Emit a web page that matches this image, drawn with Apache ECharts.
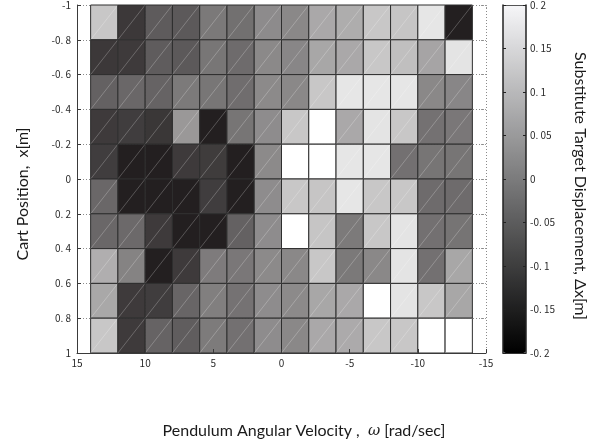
<!DOCTYPE html>
<html>
<head>
<meta charset="utf-8">
<script src="https://cdn.jsdelivr.net/npm/echarts@6/dist/echarts.min.js"></script>
<style>
  html, body { margin: 0; padding: 0; background: #ffffff; }
  #chart { width: 601px; height: 447px; }
</style>
</head>
<body>
<div id="chart"></div>
<script>
// Cell centres: pendulum angular velocity (rad/sec) and cart position (m)
const omegaCenters = [13, 11, 9, 7, 5, 3, 1, -1, -3, -5, -7, -9, -11, -13];
const cartCenters = [-0.9, -0.7, -0.5, -0.3, -0.1, 0.1, 0.3, 0.5, 0.7, 0.9];

// Substitute target displacement (m), one row per cart position
const row1  = [0.100, -0.155, -0.093, -0.096, -0.040, -0.056, -0.007, -0.013, 0.045, 0.053, 0.100, 0.096, 0.155, -0.200];
const row2  = [-0.155, -0.151, -0.091, -0.096, -0.045, -0.064, -0.011, -0.016, 0.042, 0.045, 0.100, 0.085, 0.038, 0.151];
const row3  = [-0.082, -0.071, -0.078, -0.038, -0.045, -0.060, -0.009, -0.013, 0.100, 0.155, 0.155, 0.155, -0.013, -0.016];
const row4  = [-0.151, -0.147, -0.158, 0.016, -0.200, -0.047, -0.005, 0.100, 0.200, 0.045, 0.151, 0.100, -0.053, -0.042];
const row5  = [-0.147, -0.200, -0.200, -0.151, -0.149, -0.200, -0.009, 0.200, 0.200, 0.155, 0.155, -0.055, -0.047, -0.047];
const row6  = [-0.071, -0.200, -0.200, -0.200, -0.147, -0.200, -0.005, 0.100, 0.096, 0.155, 0.100, 0.100, -0.064, -0.064];
const row7  = [-0.071, -0.067, -0.151, -0.200, -0.200, -0.082, -0.005, 0.200, 0.096, -0.038, 0.100, 0.151, -0.055, -0.049];
const row8  = [0.056, -0.022, -0.200, -0.151, -0.035, -0.042, -0.009, -0.013, 0.100, -0.040, -0.013, 0.151, -0.055, 0.042];
const row9  = [0.044, -0.151, -0.147, -0.075, -0.029, -0.051, -0.005, -0.009, 0.042, 0.045, 0.200, 0.151, 0.100, 0.042];
const row10 = [0.100, -0.151, -0.078, -0.089, -0.036, -0.055, -0.005, -0.013, 0.045, 0.049, 0.100, 0.100, 0.200, 0.200];
const displacementRows = [row1, row2, row3, row4, row5, row6, row7, row8, row9, row10];

// Axis tick values
const omegaTicks = [15, 10, 5, 0, -5, -10, -15];
const cartTicks = [-1, -0.8, -0.6, -0.4, -0.2, 0, 0.2, 0.4, 0.6, 0.8, 1];
const colorTicks = [0.2, 0.15, 0.1, 0.05, 0, -0.05, -0.1, -0.15, -0.2];

const cells = [];
displacementRows.forEach((row, r) => {
  row.forEach((v, c) => cells.push([omegaCenters[c], cartCenters[r], v]));
});

const halfW = Math.abs(omegaCenters[0] - omegaCenters[1]) / 2;
const halfH = Math.abs(cartCenters[1] - cartCenters[0]) / 2;

// Tick labels are printed with a gap after the decimal point
function tickText(v) {
  const s = String(Math.round(v * 100) / 100);
  return s.replace('.', '. ');
}

const tickFont = {
  fontFamily: 'Noto Sans CJK JP',
  fontSize: 10,
  color: '#2a2a2a'
};
const titleFont = '16px Lato';
const dotted = { color: '#8a8a8a', type: [1, 2], width: 1 };

const chart = echarts.init(document.getElementById('chart'), null, { renderer: 'canvas' });

chart.setOption({
  animation: false,
  backgroundColor: '#ffffff',
  grid: [
    { left: 77, right: 115, top: 5, bottom: 94, outerBoundsMode: 'none' },
    { left: 503, width: 23, top: 5, height: 348, outerBoundsMode: 'none' }
  ],
  xAxis: [
    {
      // bottom axis: line, ticks and labels drawn above the cells
      gridIndex: 0, type: 'value', inverse: true,
      min: omegaTicks[omegaTicks.length - 1], max: omegaTicks[0], interval: 5,
      position: 'bottom',
      axisLine: { show: true, onZero: false, lineStyle: { color: '#3a3a3a', width: 1 } },
      axisTick: { show: true, inside: true, length: 4, lineStyle: { color: '#3a3a3a' } },
      axisLabel: Object.assign({ margin: 5, formatter: tickText }, tickFont),
      splitLine: { show: false },
      z: 10
    },
    {
      // top mirror: dotted grid and ticks behind the cells
      gridIndex: 0, type: 'value', inverse: true,
      min: omegaTicks[omegaTicks.length - 1], max: omegaTicks[0], interval: 5,
      position: 'top',
      axisLine: { show: false, onZero: false },
      axisTick: { show: true, inside: true, length: 4, lineStyle: { color: '#9a9a9a', type: [1, 1] } },
      axisLabel: { show: false },
      splitLine: { show: true, lineStyle: dotted },
      z: 1
    },
    { gridIndex: 1, type: 'value', min: 0, max: 1, position: 'bottom',
      axisLine: { show: true, onZero: false, lineStyle: { color: '#333', width: 1 } },
      axisTick: { show: false }, axisLabel: { show: false }, splitLine: { show: false }, z: 10 },
    { gridIndex: 1, type: 'value', min: 0, max: 1, position: 'top',
      axisLine: { show: true, onZero: false, lineStyle: { color: '#555', width: 1 } },
      axisTick: { show: false }, axisLabel: { show: false }, splitLine: { show: false }, z: 10 }
  ],
  yAxis: [
    {
      gridIndex: 0, type: 'value', inverse: true,
      min: cartTicks[0], max: cartTicks[cartTicks.length - 1], interval: 0.2,
      position: 'left',
      axisLine: { show: true, onZero: false, lineStyle: { color: '#3a3a3a', width: 1 } },
      axisTick: { show: true, inside: true, length: 4, lineStyle: { color: '#3a3a3a' } },
      axisLabel: Object.assign({ margin: 6, formatter: tickText }, tickFont),
      splitLine: { show: false },
      z: 10
    },
    {
      gridIndex: 0, type: 'value', inverse: true,
      min: cartTicks[0], max: cartTicks[cartTicks.length - 1], interval: 0.2,
      position: 'right',
      axisLine: { show: false, onZero: false },
      axisTick: { show: true, inside: true, length: 6, lineStyle: { color: '#9a9a9a', type: [1, 1] } },
      axisLabel: { show: false },
      splitLine: { show: true, lineStyle: dotted },
      z: 1
    },
    {
      gridIndex: 1, type: 'value',
      min: colorTicks[colorTicks.length - 1], max: colorTicks[0], interval: 0.05,
      position: 'left',
      axisLine: { show: true, onZero: false, lineStyle: { color: '#222', width: 1.5 } },
      axisTick: { show: true, inside: true, length: 3, lineStyle: { color: '#222' } },
      axisLabel: { show: false },
      splitLine: { show: false },
      z: 10
    },
    {
      gridIndex: 1, type: 'value',
      min: colorTicks[colorTicks.length - 1], max: colorTicks[0], interval: 0.05,
      position: 'right',
      axisLine: { show: true, onZero: false, lineStyle: { color: '#222', width: 1.5 } },
      axisTick: { show: true, inside: true, length: 3, lineStyle: { color: '#222' } },
      axisLabel: Object.assign({ margin: 4, formatter: tickText }, tickFont),
      splitLine: { show: false },
      z: 10
    }
  ],
  visualMap: [
    {
      type: 'continuous', show: false, seriesIndex: 0, dimension: 2,
      min: -0.2, max: 0.2,
      inRange: { color: ['#231f20', '#ffffff'] }
    },
    {
      type: 'continuous', show: true, seriesIndex: 1, dimension: 1,
      min: -0.2, max: 0.2,
      left: 503, top: 5, padding: 0,
      itemWidth: 23, itemHeight: 348,
      calculable: false, text: null, showLabel: false,
      inRange: { color: ['#000000', '#f6f6f8'] }
    }
  ],
  series: [
    {
      type: 'custom',
      xAxisIndex: 0, yAxisIndex: 0,
      data: cells,
      encode: { x: 0, y: 1 },
      renderItem: function (params, api) {
        const x = api.value(0), y = api.value(1);
        const a = api.coord([x + halfW, y - halfH]);
        const b = api.coord([x - halfW, y + halfH]);
        const left = Math.min(a[0], b[0]), right = Math.max(a[0], b[0]);
        const top = Math.min(a[1], b[1]), bottom = Math.max(a[1], b[1]);
        return {
          type: 'group',
          children: [
            {
              type: 'rect',
              shape: { x: left, y: top, width: right - left, height: bottom - top },
              style: { fill: api.visual('color'), stroke: '#2e2e2e', lineWidth: 1 }
            },
            {
              type: 'line',
              shape: { x1: left, y1: bottom, x2: right, y2: top },
              style: { stroke: 'rgba(255,255,255,0.4)', lineWidth: 0.6 }
            }
          ]
        };
      },
      z: 5
    },
    {
      type: 'scatter', xAxisIndex: 2, yAxisIndex: 2, data: [], silent: true
    }
  ],
  graphic: [
    {
      type: 'text',
      x: 304, y: 431,
      style: {
        text: 'Pendulum Angular Velocity ,  {w|ω} [rad/sec]',
        align: 'center', verticalAlign: 'middle',
        font: titleFont, fill: '#1a1a1a',
        rich: { w: { fontStyle: 'italic', fontFamily: 'DejaVu Serif', fontSize: 15, fill: '#1a1a1a' } }
      }
    },
    {
      type: 'text',
      x: 23, y: 194, rotation: Math.PI / 2,
      style: {
        text: 'Cart Position,  x[m]',
        align: 'center', verticalAlign: 'middle',
        font: titleFont, fill: '#1a1a1a'
      }
    },
    {
      type: 'text',
      x: 580, y: 186, rotation: -Math.PI / 2,
      style: {
        text: 'Substitute Target Displacement, Δx[m]',
        align: 'center', verticalAlign: 'middle',
        font: titleFont, fill: '#1a1a1a'
      }
    }
  ]
});
</script>
</body>
</html>
